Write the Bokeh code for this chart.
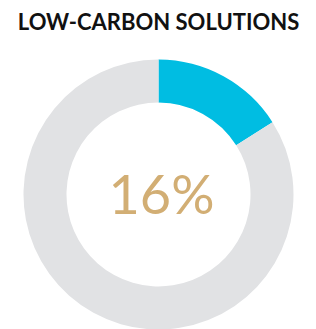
import numpy as np
from bokeh.plotting import figure
from bokeh.models import ColumnDataSource, Range1d
from bokeh.core.properties import value
from bokeh.embed import file_html
from bokeh.resources import INLINE

title = "LOW-CARBON SOLUTIONS"
labels = ["Low-carbon solutions", "Other"]
values = [16, 84]
colors = ["#00BDE2", "#E1E2E4"]
center_label = "16%"

W, H = 316, 329
p = figure(width=W, height=H, output_backend="svg", toolbar_location=None,
           x_range=Range1d(0, W), y_range=Range1d(0, H), min_border=0)
p.axis.visible = False
p.grid.visible = False
p.outline_line_color = None
p.background_fill_color = "white"
p.border_fill_color = "white"

cx, cy = 158, H - 194
frac = np.cumsum([0] + values) / sum(values)
# clockwise from 12 o'clock
starts = [np.pi / 2 - frac[i + 1] * 2 * np.pi for i in range(len(values))]
ends = [np.pi / 2 - frac[i] * 2 * np.pi for i in range(len(values))]
src = ColumnDataSource(dict(start=starts, end=ends, color=colors, label=labels))
p.annular_wedge(x=cx, y=cy, inner_radius=92, outer_radius=135,
                start_angle="start", end_angle="end", color="color",
                line_color=None, source=src)

p.text(x=[158], y=[H - 20.5], text=[title], text_align="center",
       text_baseline="middle", text_font=value("Lato"), text_font_style="bold",
       text_font_size="22px", text_color="#111111")
p.text(x=[161], y=[H - 192.5], text=[center_label], text_align="center",
       text_baseline="middle", text_font=value("Lato"),
       text_font_size="54px", text_color="#D2AE74")

open("out.html", "w").write(file_html(p, INLINE))
